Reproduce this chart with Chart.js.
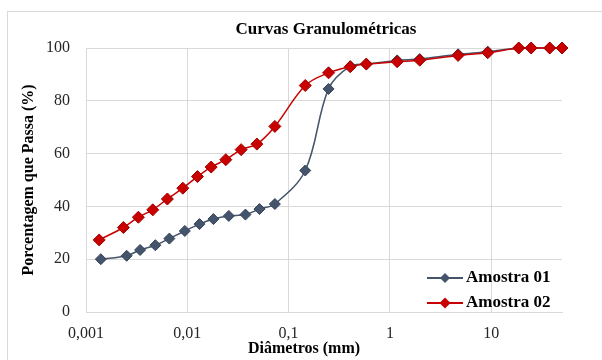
<!DOCTYPE html>
<html>
<head>
<meta charset="utf-8">
<script src="https://cdn.jsdelivr.net/npm/chart.js@4/dist/chart.umd.min.js"></script>
<style>
  html, body { margin: 0; padding: 0; background: #fff; }
  #wrap { width: 602px; height: 360px; }
</style>
</head>
<body>
<div id="wrap"><canvas id="granChart" width="602" height="360"></canvas></div>
<script>
// diâmetros (mm) e % passante
const diametros01 = [0.0014, 0.00252, 0.00342, 0.00484, 0.00665, 0.00945, 0.0132, 0.0181, 0.0257, 0.0375, 0.0516, 0.0732, 0.146, 0.248, 0.406, 0.585, 1.18, 1.97, 4.71, 9.24, 18.7, 24.8, 37.8, 50];
const passante01 = [20.0, 21.3, 23.5, 25.3, 27.8, 30.7, 33.3, 35.2, 36.4, 36.9, 39.0, 40.9, 53.6, 84.5, 93.1, 93.9, 95.3, 95.8, 97.6, 98.6, 100, 100, 100, 100];
const diametros02 = [0.00135, 0.00234, 0.00329, 0.00456, 0.00636, 0.00903, 0.0126, 0.0172, 0.0240, 0.0340, 0.0486, 0.0732, 0.146, 0.248, 0.406, 0.585, 1.18, 1.97, 4.71, 9.24, 18.7, 24.8, 37.8, 50];
const passante02 = [27.3, 32.0, 35.9, 38.7, 42.8, 46.9, 51.3, 54.9, 57.7, 61.5, 63.6, 70.3, 85.8, 90.6, 92.9, 93.9, 94.8, 95.4, 97.2, 98.2, 100, 100, 100, 100];

const xTicks = [0.001, 0.01, 0.1, 1, 10];
const xTickLabels = ['0,001', '0,01', '0,1', '1', '10'];
const seriesNames = ['Amostra 01', 'Amostra 02'];

const blue = '#44546A';
const red = '#C80000';
const gridColor = '#D9D9D9';
const serif = "'Liberation Serif', 'Times New Roman', serif";

const toPoints = (xs, ys) => xs.map((x, i) => ({ x, y: ys[i] }));

// moldura, título, legenda e título do eixo x (posições do Excel)
const decor = {
  id: 'decor',
  beforeDraw(chart) {
    const c = chart.ctx;
    c.save();
    c.strokeStyle = gridColor;
    c.lineWidth = 1;
    c.strokeRect(7.5, 11.5, 700, 400);
    c.restore();
  },
  afterDraw(chart) {
    const c = chart.ctx;
    c.save();
    c.fillStyle = '#000';
    c.textBaseline = 'middle';
    c.textAlign = 'center';
    c.font = 'bold 17px ' + serif;
    c.fillText('Curvas Granulométricas', 326, 30);
    c.font = 'bold 16px ' + serif;
    c.fillText('Diâmetros (mm)', 304, 349);

    const items = [
      { name: seriesNames[0], color: blue, y: 278, r: 5 },
      { name: seriesNames[1], color: red, y: 303, r: 5.5 }
    ];
    items.forEach(it => {
      c.strokeStyle = it.color;
      c.lineWidth = 2;
      c.beginPath();
      c.moveTo(427, it.y);
      c.lineTo(463, it.y);
      c.stroke();
      c.fillStyle = it.color;
      c.beginPath();
      c.moveTo(445, it.y - it.r);
      c.lineTo(445 + it.r, it.y);
      c.lineTo(445, it.y + it.r);
      c.lineTo(445 - it.r, it.y);
      c.closePath();
      c.fill();
      c.fillStyle = '#000';
      c.textAlign = 'left';
      c.font = 'bold 17px ' + serif;
      c.fillText(it.name, 466, it.y);
    });
    c.restore();
  }
};

new Chart(document.getElementById('granChart'), {
  type: 'line',
  data: {
    datasets: [{
      label: seriesNames[1],
      data: toPoints(diametros02, passante02),
      borderColor: red,
      backgroundColor: red,
      pointBackgroundColor: red,
      pointBorderColor: '#A00000',
      pointBorderWidth: 1,
      pointStyle: 'rectRot',
      pointRadius: 6,
      borderWidth: 1.5,
      tension: 0.35,
      clip: false,
      order: 0
    }, {
      label: seriesNames[0],
      data: toPoints(diametros01, passante01),
      borderColor: blue,
      backgroundColor: blue,
      pointBackgroundColor: blue,
      pointBorderColor: '#35435A',
      pointBorderWidth: 1,
      pointStyle: 'rectRot',
      pointRadius: 5.5,
      borderWidth: 1.5,
      tension: 0.35,
      clip: false,
      order: 1
    }]
  },
  options: {
    responsive: false,
    animation: false,
    layout: { padding: { top: 48, right: 40, bottom: 0, left: 0 } },
    plugins: {
      legend: { display: false },
      tooltip: { enabled: false },
      title: { display: false }
    },
    scales: {
      x: {
        type: 'logarithmic',
        min: 0.001,
        max: 50,
        afterBuildTicks: s => { s.ticks = xTicks.map(v => ({ value: v })); },
        afterFit: s => { s.height = 48; },
        ticks: {
          color: '#262626',
          font: { family: serif, size: 16 },
          padding: 12,
          maxRotation: 0,
          autoSkip: false,
          callback: (v, i) => xTickLabels[i]
        },
        grid: { color: gridColor, drawTicks: false },
        border: { color: gridColor }
      },
      y: {
        min: 0,
        max: 100,
        afterFit: s => { s.width = 86; },
        ticks: {
          stepSize: 20,
          color: '#262626',
          font: { family: serif, size: 16 },
          padding: 16
        },
        grid: { color: gridColor, drawTicks: false },
        border: { color: gridColor },
        title: {
          display: true,
          text: 'Porcentagem que Passa (%)',
          color: '#000',
          font: { family: serif, size: 16, weight: 'bold' },
          padding: { top: 19, bottom: 0 }
        }
      }
    }
  },
  plugins: [decor]
});
</script>
</body>
</html>
